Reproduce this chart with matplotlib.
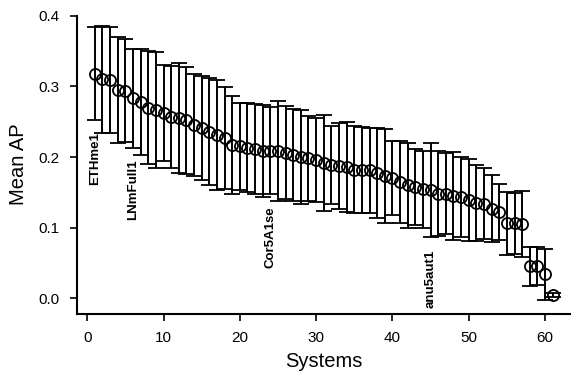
import numpy as np
import matplotlib
matplotlib.use("Agg")
from matplotlib import pyplot as plt

# mean average precision of each run, sorted, with its error half-width
mean_ap = [0.318, 0.310, 0.309, 0.295, 0.294, 0.283, 0.278, 0.270, 0.267, 0.262,
           0.257, 0.255, 0.252, 0.245, 0.241, 0.236, 0.231, 0.227, 0.217, 0.215,
           0.213, 0.211, 0.209, 0.209, 0.208, 0.206, 0.203, 0.200, 0.198, 0.196,
           0.191, 0.189, 0.187, 0.186, 0.182, 0.182, 0.181, 0.177, 0.173, 0.170,
           0.165, 0.160, 0.158, 0.154, 0.153, 0.148, 0.148, 0.145, 0.143, 0.139,
           0.135, 0.134, 0.127, 0.122, 0.106, 0.106, 0.105, 0.045, 0.045, 0.034,
           0.004]
err = [0.066, 0.076, 0.075, 0.075, 0.073, 0.070, 0.075, 0.080, 0.082, 0.068,
       0.072, 0.078, 0.076, 0.072, 0.074, 0.076, 0.078, 0.072, 0.070, 0.062,
       0.063, 0.064, 0.065, 0.062, 0.071, 0.066, 0.065, 0.066, 0.060, 0.060,
       0.068, 0.055, 0.061, 0.064, 0.062, 0.061, 0.060, 0.064, 0.066, 0.052,
       0.058, 0.060, 0.054, 0.055, 0.067, 0.060, 0.057, 0.062, 0.057, 0.058,
       0.054, 0.050, 0.048, 0.040, 0.045, 0.043, 0.047, 0.028, 0.027, 0.036,
       0.003]
systems = np.arange(1, len(mean_ap) + 1)

# named runs marked under their bars
run_names = ["ETHme1", "LNmFull1", "Cor5A1se", "anu5aut1"]
run_pos = [1, 6, 24, 45]

plt.rcParams['font.family'] = ['Liberation Sans', 'DejaVu Sans']

fig = plt.figure(figsize=(5.71, 3.73), dpi=100)
ax = fig.add_axes([0.134, 0.158, 0.866, 0.802])

ax.errorbar(systems, mean_ap, yerr=err, fmt='o', color='black', mfc='none',
            mec='black', ms=8, mew=1.3, elinewidth=1.4, capsize=5.8,
            capthick=1.4)

for name, pos in zip(run_names, run_pos):
    i = pos - 1
    ax.text(pos, mean_ap[i] - err[i] - 0.017, name, rotation=90,
            ha='center', va='top', fontsize=9.5, fontweight='bold')

ax.set_xlim(-1.4, 63.4)
ax.set_ylim(-0.0226, 0.4014)
ax.set_xticks(range(0, 61, 10))
ax.set_yticks([0.0, 0.1, 0.2, 0.3, 0.4])
ax.set_yticklabels(['0.0', '0.1', '0.2', '0.3', '0.4'])
ax.spines['top'].set_visible(False)
ax.spines['right'].set_visible(False)
ax.spines['left'].set_bounds(-0.0226, 0.4)
for s in ['left', 'bottom']:
    ax.spines[s].set_linewidth(1.5)
ax.tick_params(width=1.2, length=5, labelsize=11, pad=7)

ax.set_xlabel('Systems', fontsize=14.5, labelpad=5)
ax.set_ylabel('Mean AP', fontsize=14.5, labelpad=8)

fig.savefig('out.png', dpi=100)
